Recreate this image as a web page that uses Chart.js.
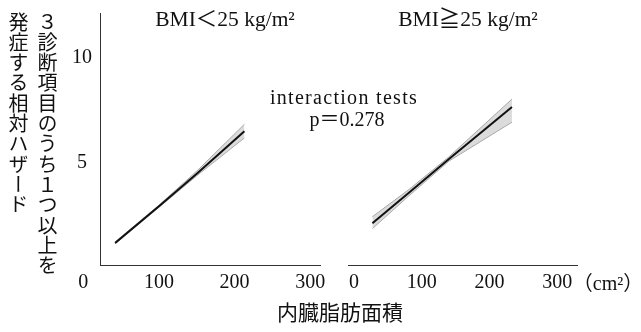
<!DOCTYPE html>
<html>
<head>
<meta charset="utf-8">
<script src="https://cdn.jsdelivr.net/npm/chart.js@4"></script>
<style>
  body { margin: 0; background: #fff; }
  #wrap { position: relative; width: 641px; height: 332px; overflow: hidden; }
  canvas { position: absolute; left: 0; top: 0; }
  .t { position: absolute; color: #111; white-space: nowrap; line-height: 1;
       font-family: "Liberation Serif", "Noto Sans CJK JP", serif; font-size: 20px;
       transform: translate(-50%, -50%); }
  .ttl { font-size: 21.5px; }
  #ytitle { position: absolute; left: 4px; top: 12px; writing-mode: vertical-rl;
            font-family: "Noto Sans CJK JP"; font-size: 20px; line-height: 29px;
            letter-spacing: 0.3px; color: #111; }
  #xtitle { font-family: "Noto Sans CJK JP"; font-size: 21px; }
</style>
</head>
<body>
<div id="wrap">
  <canvas id="chartLow" width="641" height="332"></canvas>
  <canvas id="chartHigh" width="641" height="332"></canvas>
  <div id="ytitle">３診断項目のうち１つ以上を<br>発症する相対ハザード</div>
  <div class="t ttl" style="left:225px;top:20px">BMI＜25 kg/m²</div>
  <div class="t ttl" style="left:468px;top:20px">BMI≧25 kg/m²</div>
  <div class="t" style="left:344px;top:97px;letter-spacing:1.3px">interaction tests</div>
  <div class="t" style="left:347px;top:119px">p＝0.278</div>
  <div class="t" id="xtitle" style="left:340px;top:311px">内臓脂肪面積</div>
  <div class="t" style="left:608px;top:283px">（cm²）</div>
</div>
<script>
// 内臓脂肪面積 (cm2) と相対ハザード
const lowX = [42, 100, 150, 213];
const lowHR = [1.2, 2.95, 4.5, 6.52];
const lowUpper = [1.25, 3.0, 4.62, 6.85];
const lowLower = [1.15, 2.9, 4.4, 6.2];

const highX = [27, 80, 140, 233];
const highHR = [2.14, 3.57, 5.2, 7.67];
const highUpper = [2.45, 3.72, 5.3, 8.05];
const highLower = [1.88, 3.42, 5.1, 6.95];

const xTicks = [0, 100, 200, 300];
const yTicks = [5, 10];

const tickFont = { family: 'Liberation Serif', size: 20 };

function pts(xs, ys) {
  return xs.map((x, i) => ({ x: x, y: ys[i] }));
}

function makeDatasets(xs, hr, up, lo) {
  return [
    { data: pts(xs, hr), borderColor: '#111', borderWidth: 2, pointRadius: 0, fill: false },
    { data: pts(xs, up), borderColor: '#a8a8a8', borderWidth: 1, pointRadius: 0,
      backgroundColor: 'rgba(175,175,175,0.45)', fill: '+1' },
    { data: pts(xs, lo), borderColor: '#a8a8a8', borderWidth: 1, pointRadius: 0, fill: false }
  ];
}

function xScale(min, max) {
  return {
    type: 'linear', min: min, max: max,
    grid: { display: false, drawTicks: false },
    border: { display: true, color: '#333', width: 1 },
    ticks: { font: tickFont, color: '#111', padding: 6, autoSkip: false, maxRotation: 0 },
    afterBuildTicks: s => { s.ticks = xTicks.map(v => ({ value: v })); },
    afterFit: s => { s.height = 30; s.paddingLeft = 0; s.paddingRight = 0; }
  };
}

function yScale(show) {
  return {
    display: show, min: 0.15, max: 12.15,
    grid: { display: false, drawTicks: false },
    border: { display: true, color: '#333', width: 1 },
    ticks: { font: tickFont, color: '#111', padding: 8, crossAlign: 'center' },
    afterBuildTicks: s => { s.ticks = yTicks.map(v => ({ value: v })); },
    afterFit: s => { s.width = show ? 36 : 0; s.paddingTop = 0; s.paddingBottom = 0; }
  };
}

function baseOptions(padding, xs, ys) {
  return {
    responsive: false,
    animation: false,
    layout: { padding: padding },
    plugins: { legend: { display: false }, tooltip: { enabled: false } },
    elements: { line: { tension: 0 } },
    scales: { x: xs, y: ys }
  };
}

new Chart(document.getElementById('chartLow'), {
  type: 'line',
  data: { datasets: makeDatasets(lowX, lowHR, lowUpper, lowLower) },
  options: baseOptions({ left: 64, right: 321, top: 13, bottom: 37 }, xScale(22, 313), yScale(true))
});

new Chart(document.getElementById('chartHigh'), {
  type: 'line',
  data: { datasets: makeDatasets(highX, highHR, highUpper, highLower) },
  options: baseOptions({ left: 348, right: 64, top: 13, bottom: 37 }, xScale(-9, 329), yScale(false))
});
</script>
</body>
</html>
